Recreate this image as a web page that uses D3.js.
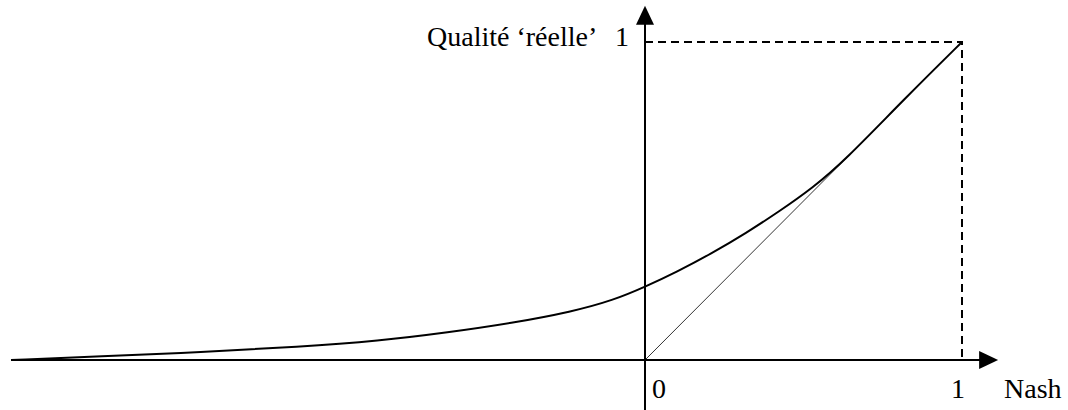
<!DOCTYPE html>
<html>
<head>
<meta charset="utf-8">
<script src="https://cdn.jsdelivr.net/npm/d3@7"></script>
<style>
    body { margin: 0; background: #fff; }
    text { font-family: 'Liberation Serif', 'Times New Roman', serif; font-size: 28px; fill: #000; }
</style>
</head>
<body>
<svg id="chart" width="1068" height="410"></svg>
<script>
let nashValues = [-2.0, -1.72, -1.4, -1.09, -0.84, -0.62, -0.42, -0.23, -0.1, 0, 0.1, 0.21, 0.32, 0.42, 0.53, 0.63, 0.82, 1.0];
let qualityValues = [0, 0.011, 0.025, 0.041, 0.06, 0.087, 0.116, 0.152, 0.188, 0.23, 0.277, 0.335, 0.4, 0.465, 0.542, 0.627, 0.823, 1.0];

let xTicks = [0, 1];
let xLabel = 'Nash';
let yLabel = 'Qualité ‘réelle’';
let yTick = '1';

let svg = d3.select('#chart');

let x = d3.scaleLinear().domain([0, 1]).range([645, 962]);
let y = d3.scaleLinear().domain([0, 1]).range([360, 42]);

let axisEnd = 1.114;

// curve
let points = nashValues.map((d, i) => ({ x: d, y: qualityValues[i] }));

let line = d3
    .line()
    .x(d => x(d.x))
    .y(d => y(d.y))
    .curve(d3.curveBasis);

// dashed guides to (1,1)
svg.append('path')
    .attr('d', 'M' + x(0) + ',' + y(1) + 'H' + x(1) + 'V' + y(0))
    .attr('fill', 'none')
    .attr('stroke', '#000')
    .attr('stroke-width', 2)
    .attr('stroke-dasharray', '8,5');

// diagonal y = x
svg.append('line')
    .attr('x1', x(0))
    .attr('y1', y(0))
    .attr('x2', x(1))
    .attr('y2', y(1))
    .attr('stroke', '#333')
    .attr('stroke-width', 1);

svg.append('path')
    .datum(points)
    .attr('d', line)
    .attr('fill', 'none')
    .attr('stroke', '#000')
    .attr('stroke-width', 2);

// axes
svg.append('line')
    .attr('x1', x(-2))
    .attr('y1', y(0))
    .attr('x2', x(axisEnd) - 18)
    .attr('y2', y(0))
    .attr('stroke', '#000')
    .attr('stroke-width', 2);

svg.append('line')
    .attr('x1', x(0))
    .attr('y1', 410)
    .attr('x2', x(0))
    .attr('y2', y(axisEnd) + 18)
    .attr('stroke', '#000')
    .attr('stroke-width', 2);

// arrow heads
let xTip = x(axisEnd);
let yTip = y(axisEnd);
svg.append('path')
    .attr('d', 'M' + xTip + ',' + y(0) + 'L' + (xTip - 19) + ',' + (y(0) - 9) + 'L' + (xTip - 19) + ',' + (y(0) + 9) + 'Z')
    .attr('fill', '#000');
svg.append('path')
    .attr('d', 'M' + x(0) + ',' + yTip + 'L' + (x(0) - 9) + ',' + (yTip + 19) + 'L' + (x(0) + 9) + ',' + (yTip + 19) + 'Z')
    .attr('fill', '#000');

// labels
svg.selectAll('.xtick')
    .data(xTicks)
    .enter()
    .append('text')
    .attr('class', 'xtick')
    .attr('x', d => (d === 0 ? x(d) + 7 : x(d) - 4))
    .attr('y', 398)
    .attr('text-anchor', d => (d === 0 ? 'start' : 'middle'))
    .text(d => d);

svg.append('text')
    .attr('x', 1004)
    .attr('y', 398)
    .text(xLabel);

svg.append('text')
    .attr('x', 427)
    .attr('y', 46)
    .text(yLabel);

svg.append('text')
    .attr('x', x(0) - 23)
    .attr('y', 46)
    .attr('text-anchor', 'middle')
    .text(yTick);
</script>
</body>
</html>
